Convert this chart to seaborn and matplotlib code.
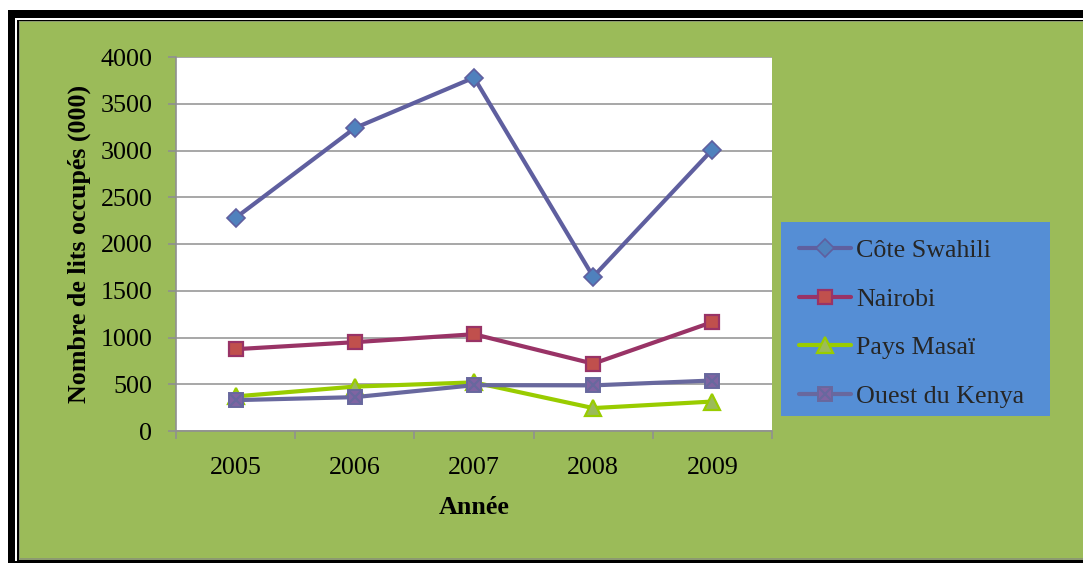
import matplotlib
matplotlib.use("Agg")
import matplotlib.pyplot as plt
from matplotlib.patches import Rectangle
from matplotlib.lines import Line2D
from matplotlib.legend_handler import HandlerTuple
import seaborn as sns
import pandas as pd

years = [2005, 2006, 2007, 2008, 2009]
cote_swahili = [2280, 3240, 3780, 1650, 3010]
nairobi = [875, 950, 1035, 720, 1165]
pays_masai = [370, 475, 520, 245, 315]
ouest_kenya = [330, 362, 490, 488, 540]

series_names = ["Côte Swahili", "Nairobi", "Pays Masaï", "Ouest du Kenya"]
series_values = [cote_swahili, nairobi, pays_masai, ouest_kenya]

y_ticks = [0, 500, 1000, 1500, 2000, 2500, 3000, 3500, 4000]

rows = []
for name, vals in zip(series_names, series_values):
    for yr, v in zip(years, vals):
        rows.append({"Année": yr, "Valeur": v, "Région": name})
df = pd.DataFrame(rows)

styles = {
    "Côte Swahili": dict(color="#5F5F9F", marker="D", markersize=8.8,
                         markerfacecolor="#4F81BD", markeredgecolor="#5F5F9F",
                         markeredgewidth=1.2),
    "Nairobi": dict(color="#993366", marker="s", markersize=10.5,
                    markerfacecolor="#C0504D", markeredgecolor="#993366",
                    markeredgewidth=1.6),
    "Pays Masaï": dict(color="#99CC00", marker="^", markersize=12,
                       markerfacecolor="#9BBB59", markeredgecolor="#99CC00",
                       markeredgewidth=1.6),
    "Ouest du Kenya": dict(color="#68689E", marker="s", markersize=10.5,
                           markerfacecolor="#8064A2", markeredgecolor="#68689E",
                           markeredgewidth=1.4),
}

sns.set_theme(style="white")
plt.rcParams["font.family"] = ["Liberation Serif", "DejaVu Serif"]

FS = 18.7

W, H = 1083, 563
fig = plt.figure(figsize=(W / 100, H / 100), dpi=100)
fig.patch.set_facecolor("white")


def px_rect(x0, y0, x1, y1, color, z):
    fig.patches.append(Rectangle((x0 / W, 1 - y1 / H), (x1 - x0) / W, (y1 - y0) / H,
                                 transform=fig.transFigure, facecolor=color,
                                 edgecolor="none", zorder=z))


# framed green panel
px_rect(8, 10, W + 10, H + 10, "black", -10)
px_rect(15, 18, W + 10, 561, "white", -9)
px_rect(17, 19.5, W + 10, 561, "black", -8)
px_rect(19, 21, W + 10, 560, "#8C9A70", -7)
px_rect(20, 22, W + 10, 558, "#9BBB59", -6)

# legend background
px_rect(781, 222, 1050, 416, "#558ED5", -5)

ax = fig.add_axes([176 / W, 1 - 431 / H, (772 - 176) / W, (431 - 57) / H])
ax.set_facecolor("white")

lw = 3.0
for name in series_names:
    sub = df[df["Région"] == name]
    sns.lineplot(data=sub, x="Année", y="Valeur", ax=ax, linewidth=lw,
                 legend=False, zorder=3, **styles[name])

# cross drawn over the Ouest du Kenya squares
ax.plot(years, ouest_kenya, linestyle="none", marker="x", markersize=9,
        markeredgecolor="#68689E", markeredgewidth=1.6, zorder=4)

ax.set_xlim(2004.5, 2009.5)
ax.set_ylim(0, 4000)
ax.set_yticks(y_ticks)
ax.set_xticks(years)
ax.set_xticks([2004.5 + i for i in range(6)], minor=True)
ax.set_xticklabels([str(y) for y in years])

ax.grid(axis="y", color="#A0A0A0", linewidth=1.3)
ax.set_axisbelow(True)
for s in ["top", "right"]:
    ax.spines[s].set_visible(False)
for s in ["left", "bottom"]:
    ax.spines[s].set_color("#909090")
    ax.spines[s].set_linewidth(1.2)

ax.tick_params(axis="y", which="major", direction="out", length=6, width=1.2,
               color="#909090", pad=11, labelsize=FS, labelcolor="black", left=True)
ax.tick_params(axis="x", which="major", length=0, pad=18.5, labelsize=FS,
               labelcolor="black", bottom=True)
ax.tick_params(axis="x", which="minor", direction="out", length=6, width=1.2,
               color="#909090", bottom=True)

ax.set_xlabel("Année", fontsize=FS, fontweight="bold", color="black")
ax.set_ylabel("Nombre de lits occupés (000)", fontsize=FS, fontweight="bold",
              color="black")
ax.xaxis.set_label_coords(0.5, -0.174)
ax.yaxis.set_label_coords(-0.143, 0.5)

# legend
handles = []
for name in series_names:
    st = styles[name]
    h = Line2D([], [], color=st["color"], linewidth=lw, marker=st["marker"],
               markersize=st["markersize"], markerfacecolor=st["markerfacecolor"],
               markeredgecolor=st["markeredgecolor"],
               markeredgewidth=st["markeredgewidth"])
    if name == "Ouest du Kenya":
        cross = Line2D([], [], linestyle="none", marker="x", markersize=9,
                       markeredgecolor="#68689E", markeredgewidth=1.6)
        h = (h, cross)
    handles.append(h)

fig.legend(handles, series_names, loc="upper left",
           bbox_to_anchor=(799 / W, 1 - 239 / H), frameon=False,
           fontsize=FS, handlelength=2.0, handletextpad=0.2,
           labelspacing=0.98, borderpad=0, borderaxespad=0,
           handler_map={tuple: HandlerTuple(ndivide=1, pad=0)})

fig.savefig("out.png", dpi=100, facecolor=fig.get_facecolor())
